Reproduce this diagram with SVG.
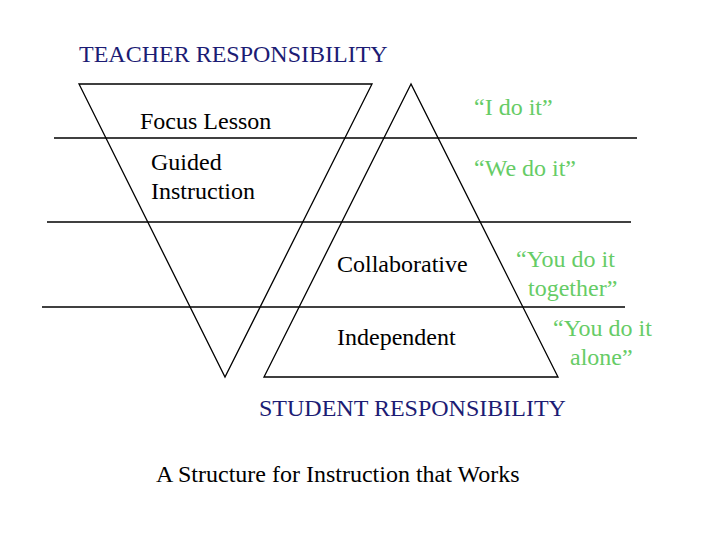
<svg xmlns="http://www.w3.org/2000/svg" width="720" height="540" viewBox="0 0 720 540" font-family="'Liberation Serif', 'Times New Roman', 'DejaVu Serif', serif" font-size="24">
<style>
.navy{fill:#1c1c74}
.blk{fill:#000}
.grn{fill:#66cc66}
.ln{stroke:#000;stroke-width:1.3;fill:none}
</style>
<rect width="720" height="540" fill="#fff"/>
<g id="connectors">
<line class="ln" x1="54" y1="138" x2="637" y2="138"/>
<line class="ln" x1="47" y1="222" x2="631" y2="222"/>
<line class="ln" x1="42" y1="307" x2="625" y2="307"/>
</g>
<g id="teacher-triangle">
<polygon class="ln" points="79,84 372,84 225,377"/>
</g>
<g id="student-triangle">
<polygon class="ln" points="411,84 264,377 558,377"/>
</g>
<g id="teacher-label"><text class="navy" x="79" y="62">TEACHER RESPONSIBILITY</text></g>
<g id="student-label"><text class="navy" x="259" y="416">STUDENT RESPONSIBILITY</text></g>
<g id="focus-lesson"><text class="blk" x="140" y="129">Focus Lesson</text></g>
<g id="guided"><text class="blk" x="151" y="170">Guided</text><text class="blk" x="151" y="199">Instruction</text></g>
<g id="collaborative"><text class="blk" x="337" y="272">Collaborative</text></g>
<g id="independent"><text class="blk" x="337" y="345">Independent</text></g>
<g id="i-do"><text class="grn" x="474" y="115">“I do it”</text></g>
<g id="we-do"><text class="grn" x="474" y="176">“We do it”</text></g>
<g id="you-together"><text class="grn" x="516" y="267">“You do it</text><text class="grn" x="528" y="296">together”</text></g>
<g id="you-alone"><text class="grn" x="553" y="336">“You do it</text><text class="grn" x="570" y="365">alone”</text></g>
<g id="caption"><text class="blk" x="156" y="482">A Structure for Instruction that Works</text></g>
</svg>
